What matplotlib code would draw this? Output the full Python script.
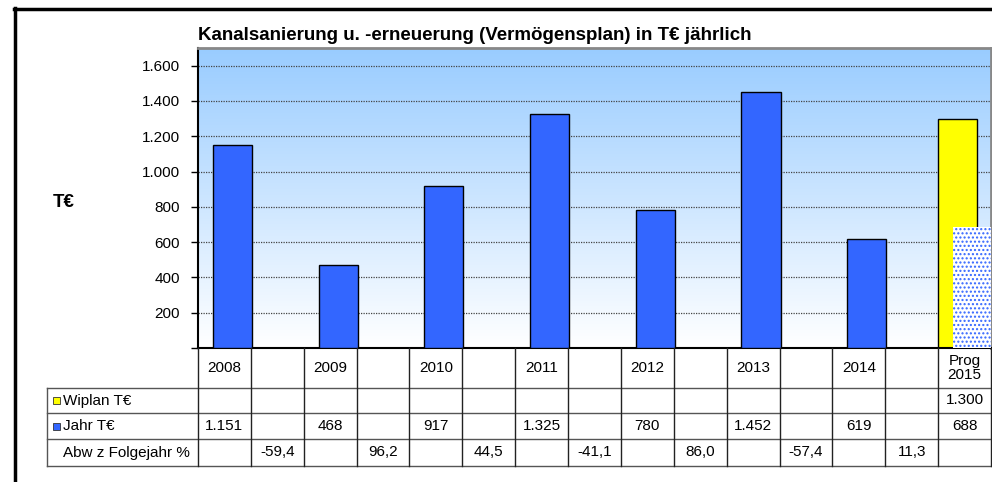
import numpy as np
import matplotlib
matplotlib.use("Agg")
import matplotlib.pyplot as plt
from matplotlib.lines import Line2D
from matplotlib.patches import Rectangle

plt.rcParams['font.family'] = ['Liberation Sans', 'DejaVu Sans']

# data
columns = ['2008', '', '2009', '', '2010', '', '2011', '', '2012', '', '2013', '', '2014', '', 'Prog\n2015']
jahr_cols = [0, 2, 4, 6, 8, 10, 12, 14]
jahr = [1151, 468, 917, 1325, 780, 1452, 619, 688]
wiplan_cols = [14]
wiplan = [1300]
abw_cols = [1, 3, 5, 7, 9, 11, 13]
abw = [-59.4, 96.2, 44.5, -41.1, 86.0, -57.4, 11.3]
yticks = [0, 200, 400, 600, 800, 1000, 1200, 1400, 1600]
row_labels = ['Wiplan T€', 'Jahr T€', 'Abw z Folgejahr %']
title = 'Kanalsanierung u. -erneuerung (Vermögensplan) in T€ jährlich'


def de_int(v):
    return f"{v:,.0f}".replace(',', '.')


def de_pct(v):
    return f"{v:.1f}".replace('.', ',')


W, H = 992, 482
fig = plt.figure(figsize=(W / 100, H / 100), dpi=100)


def box(x0, y0, x1, y1):
    # pixel box (top-left origin) -> figure rect
    return [x0 / W, 1 - y1 / H, (x1 - x0) / W, (y1 - y0) / H]


ax = fig.add_axes(box(198, 48, 991, 348))
ax.set_xlim(-0.5, len(columns) - 0.5)
ax.set_ylim(0, 1700)

# gradient background
grad = np.linspace(0, 1, 256).reshape(-1, 1)
top = np.array([0.60, 0.80, 1.0])
bot = np.array([1.0, 1.0, 1.0])
img = top[None, None, :] * grad[:, :, None] + bot[None, None, :] * (1 - grad[:, :, None])
ax.imshow(img, extent=[-0.5, len(columns) - 0.5, 0, 1700], origin='lower',
          aspect='auto', zorder=0)

for t in yticks[1:]:
    ax.axhline(t, color='#444444', lw=0.9, ls=(0, (1, 1)), zorder=1)

bw = 0.74
# Wiplan (yellow)
ax.bar(np.array(wiplan_cols) - 0.13, wiplan, width=bw, color='#FFFF00',
       edgecolor='black', lw=1, zorder=2)
# Jahr (blue), last one dotted (Prognose)
ax.bar(np.array(jahr_cols[:-1]) + 0.15, jahr[:-1], width=bw, color='#3366FF',
       edgecolor='black', lw=1, zorder=3)
ax.bar(jahr_cols[-1] + 0.15, jahr[-1], width=bw, color='white', hatch='....',
       edgecolor='#3366FF', lw=0, zorder=3)

ax.set_yticks(yticks)
ax.set_yticklabels([''] + [de_int(t) for t in yticks[1:]], fontsize=11)
ax.tick_params(axis='y', direction='out', length=5, width=1, pad=8)
ax.set_xticks([])
for s in ['left', 'bottom']:
    ax.spines[s].set_color('black')
    ax.spines[s].set_linewidth(1.5)
for s in ['top', 'right']:
    ax.spines[s].set_color('#888888')
    ax.spines[s].set_linewidth(2)

fig.text(198 / W, 1 - 35 / H, title, fontsize=13.5, fontweight='bold', va='center', ha='left')
fig.text(53 / W, 1 - 202 / H, 'T€', fontsize=13.5, fontweight='bold', va='center', ha='left')

# data table below the chart
row_edges = [348, 388, 413, 439, 466]
colw = 793 / len(columns)
lab_w = (198 - 47) / colw
tab = fig.add_axes(box(47, 348, 991, 466))
tab.set_xlim(-0.5 - lab_w, len(columns) - 0.5)
tab.set_ylim(row_edges[-1], row_edges[0])
tab.axis('off')

lc = '#222222'
for y in row_edges[1:]:
    tab.plot([-0.5 - lab_w, len(columns) - 0.5], [y, y], color='#555555', lw=1, clip_on=False)
for b in np.arange(-0.5, len(columns), 1.0):
    tab.plot([b, b], [row_edges[0], row_edges[-1]], color=lc, lw=1, clip_on=False)
tab.plot([-0.5 - lab_w] * 2, [row_edges[1], row_edges[-1]], color='#555555', lw=1, clip_on=False)

mid = [(row_edges[i] + row_edges[i + 1]) / 2 for i in range(len(row_edges) - 1)]
for i, c in enumerate(columns):
    tab.text(i, mid[0], c, ha='center', va='center', fontsize=11, linespacing=0.95)
for c, v in zip(wiplan_cols, wiplan):
    tab.text(c, mid[1], de_int(v), ha='center', va='center', fontsize=11)
for c, v in zip(jahr_cols, jahr):
    tab.text(c, mid[2], de_int(v), ha='center', va='center', fontsize=11)
for c, v in zip(abw_cols, abw):
    tab.text(c, mid[3], de_pct(v), ha='center', va='center', fontsize=11)

lx = -0.5 - lab_w
sq = 7 / colw
sqh = 7
for r, (lab, col) in enumerate(zip(row_labels, ['#FFFF00', '#3366FF', None])):
    if col:
        tab.add_patch(Rectangle((lx + 6 / colw, mid[r + 1] - sqh / 2), sq, sqh,
                                facecolor=col, edgecolor='#333333', lw=0.6, clip_on=False))
    tab.text(lx + 16 / colw, mid[r + 1], lab, ha='left', va='center', fontsize=11)

# outer frame
fig.add_artist(Line2D([14.5 / W, 14.5 / W], [0, 1 - 8 / H], color='black', lw=2.5))
fig.add_artist(Line2D([14 / W, 1], [1 - 8.5 / H, 1 - 8.5 / H], color='black', lw=2.5))

fig.savefig('out.png', dpi=100)
